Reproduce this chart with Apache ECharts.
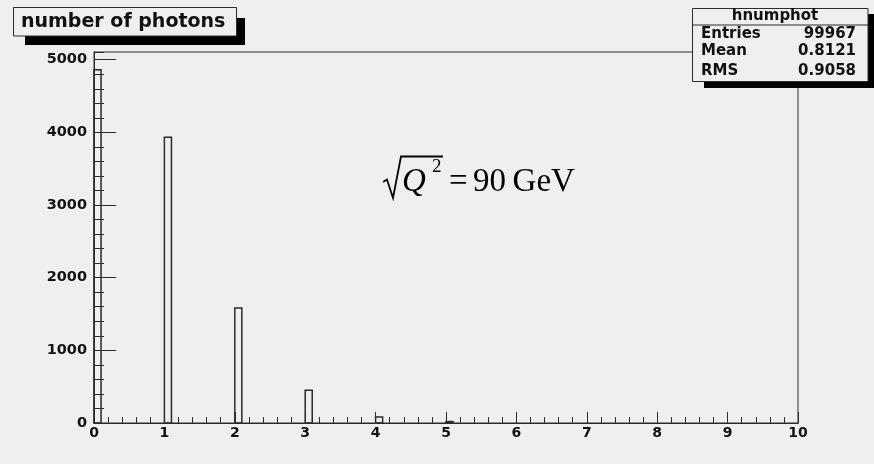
<!DOCTYPE html>
<html>
<head>
<meta charset="utf-8">
<script src="https://cdn.jsdelivr.net/npm/echarts@6/dist/echarts.min.js"></script>
<style>
  html, body { margin: 0; padding: 0; background: #efefef; }
  #chart { width: 874px; height: 464px; }
</style>
</head>
<body>
<div id="chart"></div>
<script>
// Histogram "hnumphot": number of photons per event (bins of width 0.1)
const binStart = [0, 1, 2, 3, 4, 5];
const binEnd = [0.1, 1.1, 2.1, 3.1, 4.1, 5.1];
const counts = [4863, 3934, 1582, 450, 82, 20];

// Axis ranges and tick steps
const xRange = [0, 10];
const xMajor = 1, xMinor = 0.2;
const yMaxFactor = 1.05;
const yMajor = 1000, yMinor = 200;

// Statistics box
const histName = 'hnumphot';
const statLabels = ['Entries', 'Mean', 'RMS'];
const statValues = ['99967', '0.8121', '0.9058'];
const titleText = 'number of photons';

const yMax = Math.max(...counts) * yMaxFactor;
const bins = binStart.map((s, i) => [s, binEnd[i], counts[i]]);

const INK = '#2b2b2b';
const BG = '#efefef';
const labelFont = { fontFamily: 'DejaVu Sans', fontWeight: 'bold', color: '#111' };

const chart = echarts.init(document.getElementById('chart'), null, { renderer: 'canvas' });

const commonAxis = { axisLine: { show: true, lineStyle: { color: INK, width: 1 } }, splitLine: { show: false } };

chart.setOption({
  backgroundColor: BG,
  animation: false,
  grid: { left: 94, right: 76, top: 52, bottom: 41, show: true, borderColor: INK, borderWidth: 1, backgroundColor: 'transparent' },
  xAxis: [
    Object.assign({}, commonAxis, {
      type: 'value', min: xRange[0], max: xRange[1], interval: xMajor, position: 'bottom',
      axisTick: { inside: true, length: 11, lineStyle: { color: INK } },
      axisLabel: Object.assign({ margin: 3, fontSize: 14 }, labelFont)
    }),
    Object.assign({}, commonAxis, {
      type: 'value', min: xRange[0], max: xRange[1], interval: xMinor, position: 'bottom',
      axisTick: { inside: true, length: 6, lineStyle: { color: INK } },
      axisLabel: { show: false }
    })
  ],
  yAxis: [
    Object.assign({}, commonAxis, {
      type: 'value', min: 0, max: yMax, interval: yMajor, position: 'left',
      axisTick: { inside: true, length: 22, lineStyle: { color: INK } },
      axisLabel: Object.assign({ margin: 7, fontSize: 14.5, showMaxLabel: false, formatter: v => String(Math.round(v)) }, labelFont)
    }),
    Object.assign({}, commonAxis, {
      type: 'value', min: 0, max: yMax, interval: yMinor, position: 'left',
      axisTick: { inside: true, length: 10, lineStyle: { color: INK } },
      axisLabel: { show: false }
    })
  ],
  series: [{
    type: 'custom',
    xAxisIndex: 0,
    yAxisIndex: 0,
    data: bins,
    renderItem: function (params, api) {
      const p0 = api.coord([api.value(0), api.value(2)]);
      const p1 = api.coord([api.value(1), 0]);
      return {
        type: 'rect',
        shape: { x: p0[0], y: p0[1], width: p1[0] - p0[0], height: p1[1] - p0[1] },
        style: { fill: 'none', stroke: INK, lineWidth: 1.5 }
      };
    }
  }],
  graphic: [
    // title box with drop shadow
    { type: 'rect', shape: { x: 25, y: 18, width: 220, height: 27 }, style: { fill: '#000' }, z: 10 },
    { type: 'rect', shape: { x: 13.5, y: 7.5, width: 223, height: 28.5 }, style: { fill: BG, stroke: INK, lineWidth: 1 }, z: 11 },
    { type: 'text', x: 21, y: 22, z: 12, style: { text: titleText, fontFamily: 'DejaVu Sans', fontWeight: 'bold', fontSize: 19, fill: '#111', verticalAlign: 'middle', align: 'left' } },

    // statistics box with drop shadow
    { type: 'rect', shape: { x: 704, y: 14, width: 172, height: 74 }, style: { fill: '#000' }, z: 10 },
    { type: 'rect', shape: { x: 692.5, y: 8.5, width: 175.5, height: 73 }, style: { fill: BG, stroke: INK, lineWidth: 1 }, z: 11 },
    { type: 'line', shape: { x1: 692.5, y1: 25, x2: 868, y2: 25 }, style: { stroke: INK, lineWidth: 1 }, z: 12 },
    { type: 'text', x: 775, y: 16, z: 12, style: { text: histName, fontFamily: 'DejaVu Sans', fontWeight: 'bold', fontSize: 15, fill: '#111', align: 'center', verticalAlign: 'middle' } },
    ...statLabels.map((t, i) => ({
      type: 'text', x: 701, y: [34, 51.5, 71.5][i], z: 12,
      style: { text: t, fontFamily: 'DejaVu Sans', fontWeight: 'bold', fontSize: 15, fill: '#111', align: 'left', verticalAlign: 'middle' }
    })),
    ...statValues.map((t, i) => ({
      type: 'text', x: 856, y: [34, 51.5, 71.5][i], z: 12,
      style: { text: t, fontFamily: 'DejaVu Sans', fontWeight: 'bold', fontSize: 15, fill: '#111', align: 'right', verticalAlign: 'middle' }
    })),

    // energy annotation: sqrt(Q^2) = 90 GeV
    { type: 'polyline', shape: { points: [[383, 182], [387, 179.5], [393, 198], [401, 156.5], [443, 156.5]] }, style: { stroke: '#000', lineWidth: 1.8, fill: 'none' }, z: 12 },
    { type: 'text', x: 402, y: 182, z: 12, style: { text: 'Q', fontFamily: 'Liberation Serif', fontStyle: 'italic', fontSize: 33, fill: '#000', align: 'left', verticalAlign: 'middle' } },
    { type: 'text', x: 432, y: 167, z: 12, style: { text: '2', fontFamily: 'Liberation Serif', fontSize: 19, fill: '#000', align: 'left', verticalAlign: 'middle' } },
    { type: 'text', x: 449, y: 182, z: 12, style: { text: '=', fontFamily: 'Liberation Serif', fontSize: 33, fill: '#000', align: 'left', verticalAlign: 'middle' } },
    { type: 'text', x: 473, y: 182, z: 12, style: { text: '90\u2009GeV', fontFamily: 'Liberation Serif', fontSize: 33, fill: '#000', align: 'left', verticalAlign: 'middle' } }
  ]
});
</script>
</body>
</html>
